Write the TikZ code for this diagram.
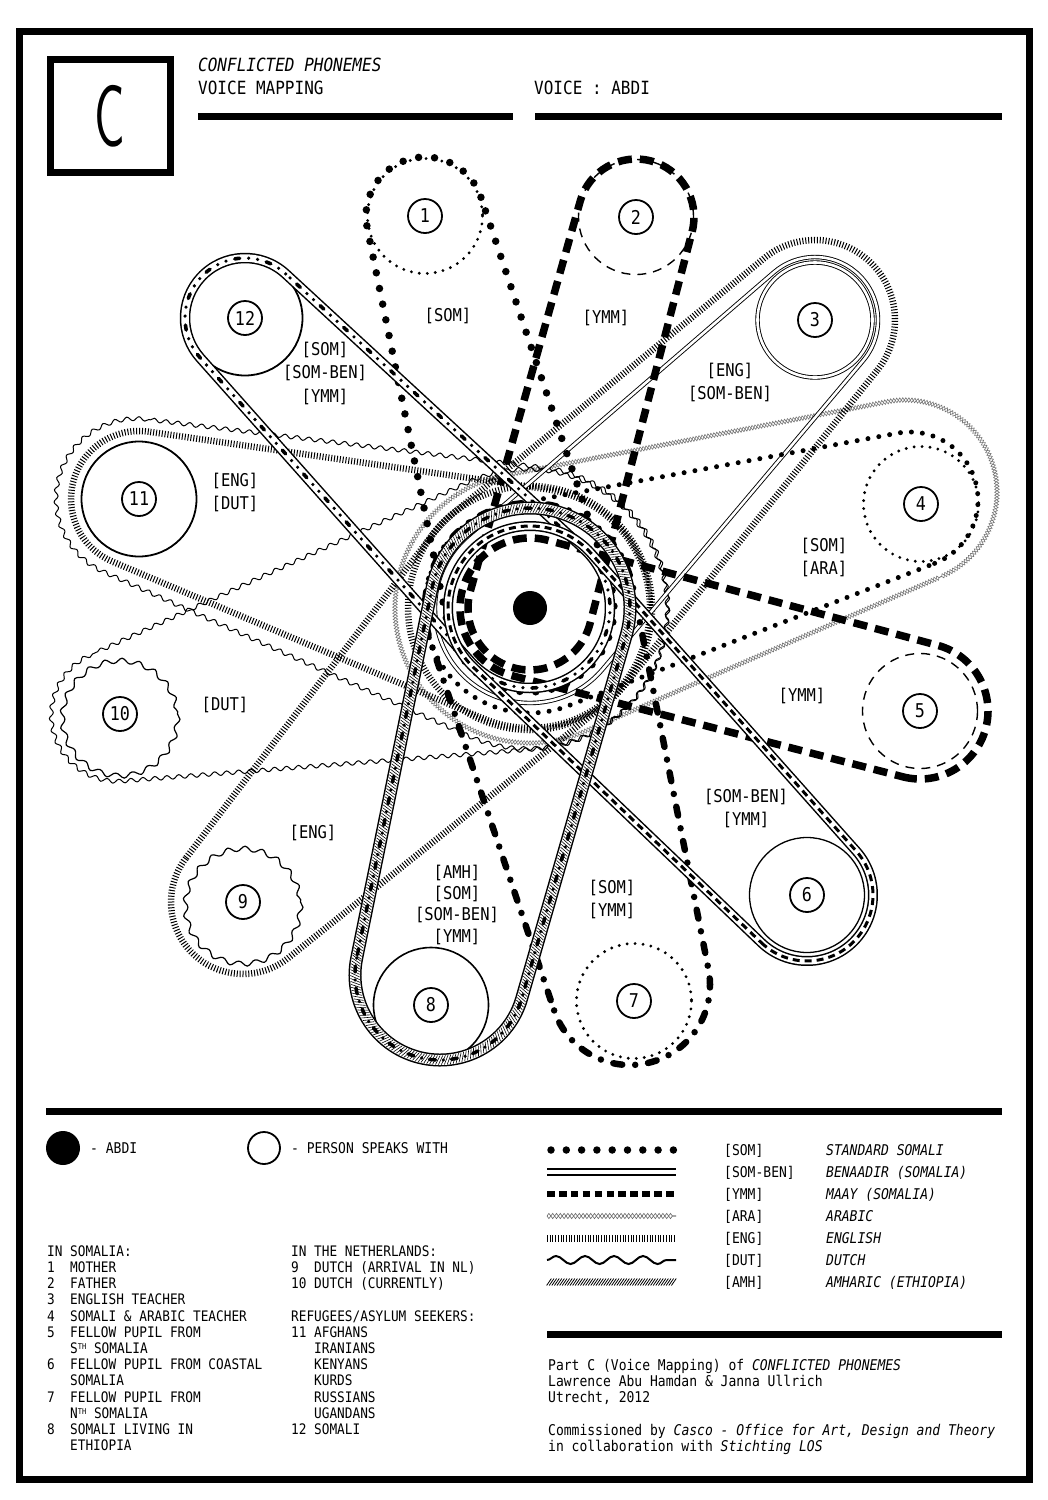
\documentclass[tikz,border=0pt]{standalone}
\usepackage{fontspec}
\newfontfamily\mono[FakeStretch=0.88]{DejaVu Sans Mono}
\usetikzlibrary{calc,decorations.pathmorphing,decorations.markings}
% belt = convex hull of a pulley circle (x,y,r_o) and the centre circle (c, r_c)
\newcommand\belt[6]{%
  \coordinate (#6) at (#2,#3);%
  \pgfmathsetmacro\bdx{#2-530}\pgfmathsetmacro\bdy{#3-608}%
  \pgfmathsetmacro\bd{10*veclen(\bdx/10,\bdy/10)}%
  \pgfmathsetmacro\bth{atan2(\bdy,\bdx)}%
  \pgfmathsetmacro\bph{acos((#5-#4)/\bd)}%
  \pgfmathsetmacro\ba{\bth+\bph}\pgfmathsetmacro\bb{\bth-\bph}\pgfmathsetmacro\bc{\bth+\bph-360}%
  \path[#1] ($(#6)+(\ba:#4)$) arc[start angle=\ba, end angle=\bb, radius=#4]
     -- ($(c)+(\bb:#5)$) arc[start angle=\bb, end angle=\bc, radius=#5] -- cycle;}
\tikzset{
 somB/.style={draw, line width=7.5pt, line cap=round, dash pattern=on 0pt off 16pt},
 somS/.style={draw, line width=5pt, line cap=round, dash pattern=on 0pt off 11pt},
 dotc/.style={draw, line width=3.2pt, line cap=round, dash pattern=on 0pt off 8pt},
 ymmB/.style={draw, line width=7.5pt, dash pattern=on 14pt off 8pt},
 ymmT/.style={draw, line width=1.4pt, dash pattern=on 9pt off 7pt},
 sben/.style={draw, double, double distance=2.6pt, line width=0.9pt},
 eng/.style={draw, line width=6.5pt, dash pattern=on 1pt off 1.9pt},
 ara/.style={postaction={draw, black!55, line width=0.6pt, decorate, decoration={zigzag, segment length=6pt, amplitude=2.3pt}},
             postaction={draw, black!55, line width=0.6pt, decorate, decoration={zigzag, segment length=6pt, amplitude=2.3pt, mirror}}},
 dut/.style={draw, line width=1pt, decorate, decoration={snake, segment length=12pt, amplitude=2pt}},
 dutc/.style={draw, line width=1.2pt, decorate, decoration={snake, segment length=17pt, amplitude=2.5pt}},
 bandsix/.style={draw, line width=10pt, postaction={draw=white, line width=7pt}, postaction={draw, line width=3pt, dash pattern=on 7pt off 5pt}},
 bandtw/.style={draw, line width=10.5pt, postaction={draw=white, line width=7.5pt}, postaction={draw, line width=3.6pt, line cap=round, dash pattern=on 0pt off 9pt on 0pt off 9pt on 5pt off 9pt}},
 bandei/.style={draw, line width=13pt, postaction={draw=white, line width=10pt},
   postaction={decorate, decoration={markings, mark=between positions 0 and 1 step 2.8pt with {\draw[line width=0.6pt] (-2.2pt,-4.6pt)--(2.2pt,4.6pt);}}},
   postaction={draw, line width=3.5pt, line cap=round, dash pattern=on 0pt off 8pt on 6pt off 8pt}},
 dotdash/.style={draw, line width=6.5pt, line cap=round, dash pattern=on 0pt off 13pt on 9pt off 13pt},
 hdr/.style={font=\mono\fontsize{18.2pt}{18.2pt}\selectfont, inner sep=0pt, anchor=west, text height=13.3pt, text depth=0pt},
 lab/.style={font=\mono\fontsize{17.6pt}{17.6pt}\selectfont, inner sep=0pt, text height=12.8pt, text depth=0pt},
 leg/.style={font=\mono\fontsize{14.8pt}{14.8pt}\selectfont, inner sep=0pt, anchor=west, text height=10.8pt, text depth=0pt},
 lst/.style={font=\mono\fontsize{14.5pt}{14.5pt}\selectfont, inner sep=0pt, anchor=west, text height=10.6pt, text depth=0pt},
 numc/.style={circle, draw, line width=1.8pt, fill=white, minimum size=34pt, inner sep=0pt, font=\mono\fontsize{19pt}{19pt}\selectfont},
}
\newcommand\supTH[1]{{\fontsize{8pt}{8pt}\selectfont\raisebox{4pt}{#1}}}
\begin{document}
\begin{tikzpicture}[x=1pt,y=-1pt]
\useasboundingbox (0,0) rectangle (1048,1500);
\fill[white] (0,0) rectangle (1048,1500);
% frame and header
\draw[line width=7pt] (19,31) rectangle (1029,1479);
\draw[line width=7pt] (50.5,59.5) rectangle (170.5,172.5);
\node[inner sep=0pt] (bigC) at (110,116) {\scalebox{0.58}[1]{\sffamily\fontsize{88pt}{88pt}\selectfont C}};
\node[hdr] (title) at (198,65) {\itshape CONFLICTED PHONEMES};
\node[hdr] (sub) at (198,88) {VOICE MAPPING};
\node[hdr] (voice) at (534,88) {VOICE : ABDI};
\fill (198,112.5) rectangle (513,119.5);
\fill (535,112.5) rectangle (1002,119.5);
% positions
\coordinate (c) at (530,608);
\coordinate (p1) at (425,216);
\coordinate (p2) at (636,217);
\coordinate (p3) at (815,320);
\coordinate (p4) at (921,504);
\coordinate (p5) at (920,711);
\coordinate (p6) at (807,895);
\coordinate (p7) at (634,1001);
\coordinate (p8) at (431,1005);
\coordinate (p9) at (243,902);
\coordinate (p10) at (120,714);
\coordinate (p11) at (139,499);
\coordinate (p12) at (245,318);
% belts and circles
\belt{ara}{905}{492}{92}{135}{b4b}
\belt{dut}{120}{714}{66}{140}{b10}
\belt{dut}{139}{499}{80}{141}{b11a}
\path[dutc] (p9) circle[radius=57.5];
\path[dutc] (p10) circle[radius=57.5];
\belt{eng}{815}{320}{80}{122}{b3b}
\belt{eng}{243}{902}{72}{122}{b9}
\belt{eng}{139}{499}{68}{120}{b11b}
\draw[dotc] (p1) circle[radius=57.5];
\draw[ymmT] (p2) circle[radius=57.5];
\draw[sben] (p3) circle[radius=57.5];
\draw[dotc] (p4) circle[radius=57.5];
\draw[ymmT] (p5) circle[radius=57.5];
\draw[line width=1.3pt] (p6) circle[radius=57.5];
\draw[dotc] (p7) circle[radius=57.5];
\draw[line width=1.6pt] (p8) circle[radius=57.5];
\draw[line width=1.8pt] (p11) circle[radius=57.5];
\draw[line width=1.8pt] (p12) circle[radius=57.5];
\belt{sben}{815}{320}{63}{95}{b3a}
\belt{somB}{425}{216}{59}{84}{b1}
\belt{somS}{910}{500}{68}{105}{b4a}
\belt{ymmB}{636}{217}{58}{62}{b2}
\belt{ymmB}{920}{711}{68}{70}{b5}
\belt{dotdash}{630}{985}{80}{105}{b7}
\belt{bandtw}{245}{318}{60}{80}{b12}
\belt{bandsix}{807}{895}{66}{82}{b6}
\belt{bandei}{440}{975}{85}{100}{b8}
% numbered people and centre
\node[numc] (n1) at (p1) {1};
\node[numc] (n2) at (p2) {2};
\node[numc] (n3) at (p3) {3};
\node[numc] (n4) at (p4) {4};
\node[numc] (n5) at (p5) {5};
\node[numc] (n6) at (p6) {6};
\node[numc] (n7) at (p7) {7};
\node[numc] (n8) at (p8) {8};
\node[numc] (n9) at (p9) {9};
\node[numc] (n10) at (p10) {10};
\node[numc] (n11) at (p11) {11};
\node[numc] (n12) at (p12) {12};
\node[circle, fill, inner sep=0pt, minimum size=34pt] (abdi) at (c) {};
% labels
\node[lab] (la1) at (448,315) {[SOM]};
\node[lab] (la2) at (606,317) {[YMM]};
\node[lab] (la3) at (325,349) {[SOM]};
\node[lab] (la4) at (325,372) {[SOM-BEN]};
\node[lab] (la5) at (325,396) {[YMM]};
\node[lab] (la6) at (730,370) {[ENG]};
\node[lab] (la7) at (730,393) {[SOM-BEN]};
\node[lab] (la8) at (235,480) {[ENG]};
\node[lab] (la9) at (235,503) {[DUT]};
\node[lab] (la10) at (824,545) {[SOM]};
\node[lab] (la11) at (824,568) {[ARA]};
\node[lab] (la12) at (225,704) {[DUT]};
\node[lab] (la13) at (802,695) {[YMM]};
\node[lab] (la14) at (746,796) {[SOM-BEN]};
\node[lab] (la15) at (746,819) {[YMM]};
\node[lab] (la16) at (313,832) {[ENG]};
\node[lab] (la17) at (612,887) {[SOM]};
\node[lab] (la18) at (612,910) {[YMM]};
\node[lab] (la19) at (457,872) {[AMH]};
\node[lab] (la20) at (457,893) {[SOM]};
\node[lab] (la21) at (457,914) {[SOM-BEN]};
\node[lab] (la22) at (457,936) {[YMM]};
% lower section
\fill (46,1107.5) rectangle (1002,1114.5);
\node[circle, fill, inner sep=0pt, minimum size=34pt] (kabdi) at (63,1148) {};
\node[leg] (kabdit) at (90,1148) {- ABDI};
\node[circle, draw, line width=1.8pt, inner sep=0pt, minimum size=32pt] (kper) at (264,1148) {};
\node[leg] (kpert) at (291,1148) {- PERSON SPEAKS WITH};
% line legend
\draw[line width=7.5pt, line cap=round, dash pattern=on 0pt off 15.3pt] (551,1150) -- (676,1150);
\draw[double, double distance=4.5pt, line width=1.3pt] (547,1172) -- (676,1172);
\draw[line width=6.5pt, dash pattern=on 7.6pt off 4.3pt] (547,1194) -- (676,1194);
\draw[black!60, line width=0.6pt, decorate, decoration={zigzag, segment length=7.6pt, amplitude=2.6pt}] (547,1216) -- (676,1216);
\draw[black!60, line width=0.6pt, decorate, decoration={zigzag, segment length=7.6pt, amplitude=2.6pt, mirror}] (547,1216) -- (676,1216);
\draw[line width=7pt, dash pattern=on 1pt off 1.7pt] (547,1238) -- (676,1238);
\draw[line width=2pt, decorate, decoration={snake, segment length=29pt, amplitude=4pt}] (547,1260) -- (676,1260);
\foreach \i in {0,...,48} \draw[line width=0.8pt] ({549+\i*2.6-2.4},1285.5) -- ({549+\i*2.6+2.4},1278.5);
\node[leg] (c1) at (724,1150) {[SOM]};
\node[leg] (c2) at (724,1172) {[SOM-BEN]};
\node[leg] (c3) at (724,1194) {[YMM]};
\node[leg] (c4) at (724,1216) {[ARA]};
\node[leg] (c5) at (724,1238) {[ENG]};
\node[leg] (c6) at (724,1260) {[DUT]};
\node[leg] (c7) at (724,1282) {[AMH]};
\node[leg] (d1) at (826,1150) {\itshape STANDARD SOMALI};
\node[leg] (d2) at (826,1172) {\itshape BENAADIR (SOMALIA)};
\node[leg] (d3) at (826,1194) {\itshape MAAY (SOMALIA)};
\node[leg] (d4) at (826,1216) {\itshape ARABIC};
\node[leg] (d5) at (826,1238) {\itshape ENGLISH};
\node[leg] (d6) at (826,1260) {\itshape DUTCH};
\node[leg] (d7) at (826,1282) {\itshape AMHARIC (ETHIOPIA)};
% lists
\node[lst] (s0) at (47,1251) {IN SOMALIA:};
\node[lst] (sn1) at (47,1267.2) {1};
\node[lst] (sn2) at (47,1283.4) {2};
\node[lst] (sn3) at (47,1299.6) {3};
\node[lst] (sn4) at (47,1315.8) {4};
\node[lst] (sn5) at (47,1332) {5};
\node[lst] (sn6) at (47,1364.4) {6};
\node[lst] (sn7) at (47,1396.8) {7};
\node[lst] (sn8) at (47,1429.2) {8};
\node[lst] (st1) at (70,1267.2) {MOTHER};
\node[lst] (st2) at (70,1283.4) {FATHER};
\node[lst] (st3) at (70,1299.6) {ENGLISH TEACHER};
\node[lst] (st4) at (70,1315.8) {SOMALI \& ARABIC TEACHER};
\node[lst] (st5) at (70,1332) {FELLOW PUPIL FROM};
\node[lst] (st6) at (70,1348.2) {S\supTH{TH} SOMALIA};
\node[lst] (st7) at (70,1364.4) {FELLOW PUPIL FROM COASTAL};
\node[lst] (st8) at (70,1380.6) {SOMALIA};
\node[lst] (st9) at (70,1396.8) {FELLOW PUPIL FROM};
\node[lst] (st10) at (70,1413) {N\supTH{TH} SOMALIA};
\node[lst] (st11) at (70,1429.2) {SOMALI LIVING IN};
\node[lst] (st12) at (70,1445.4) {ETHIOPIA};
\node[lst] (r0) at (291,1251) {IN THE NETHERLANDS:};
\node[lst] (rn9) at (291,1267.2) {9};
\node[lst] (rn10) at (291,1283.4) {10};
\node[lst] (rt9) at (314,1267.2) {DUTCH (ARRIVAL IN NL)};
\node[lst] (rt10) at (314,1283.4) {DUTCH (CURRENTLY)};
\node[lst] (r4) at (291,1315.8) {REFUGEES/ASYLUM SEEKERS:};
\node[lst] (rn11) at (291,1332) {11};
\node[lst] (rt11) at (314,1332) {AFGHANS};
\node[lst] (rt11b) at (314,1348.2) {IRANIANS};
\node[lst] (rt11c) at (314,1364.4) {KENYANS};
\node[lst] (rt11d) at (314,1380.6) {KURDS};
\node[lst] (rt11e) at (314,1396.8) {RUSSIANS};
\node[lst] (rt11f) at (314,1413) {UGANDANS};
\node[lst] (rn12) at (291,1429.2) {12};
\node[lst] (rt12) at (314,1429.2) {SOMALI};
% credits
\fill (547,1330.5) rectangle (1002,1337.5);
\node[leg] (cr1) at (548,1365) {Part C (Voice Mapping) of \itshape CONFLICTED PHONEMES};
\node[leg] (cr2) at (548,1381) {Lawrence Abu Hamdan \& Janna Ullrich};
\node[leg] (cr3) at (548,1397) {Utrecht, 2012};
\node[leg] (cr4) at (548,1430) {Commissioned by {\itshape Casco - Office for Art, Design and Theory}};
\node[leg] (cr5) at (548,1446) {in collaboration with {\itshape Stichting LOS}};
\end{tikzpicture}
\end{document}
